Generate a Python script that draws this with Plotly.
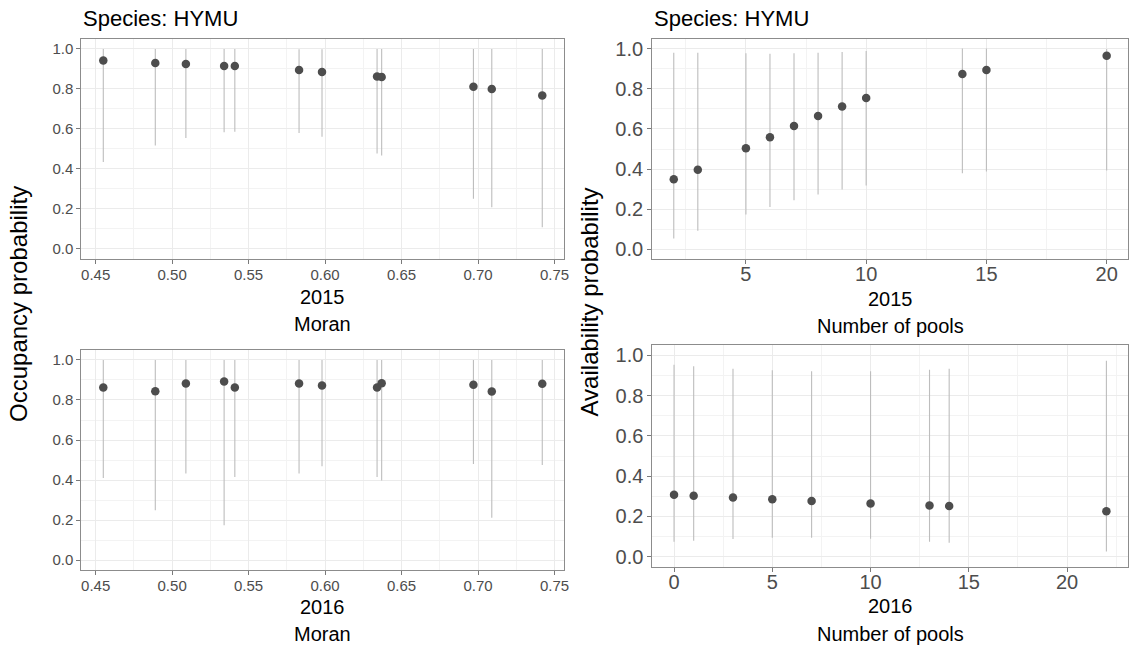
import plotly.graph_objects as go

# ---------------- data ----------------
moran = [0.455, 0.489, 0.509, 0.534, 0.541, 0.583, 0.598, 0.634, 0.637, 0.697, 0.709, 0.742]
occ_2015 = [0.942, 0.929, 0.925, 0.915, 0.914, 0.894, 0.885, 0.862, 0.859, 0.811, 0.799, 0.767]
occ_2015_lo = [0.435, 0.517, 0.555, 0.583, 0.586, 0.580, 0.561, 0.477, 0.467, 0.251, 0.208, 0.108]
occ_2015_hi = [1.0, 1.0, 1.0, 1.0, 1.0, 0.998, 0.998, 1.0, 1.0, 1.0, 1.0, 1.0]
occ_2016 = [0.862, 0.844, 0.882, 0.892, 0.862, 0.882, 0.872, 0.862, 0.884, 0.876, 0.842, 0.881]
occ_2016_lo = [0.410, 0.250, 0.433, 0.174, 0.416, 0.433, 0.469, 0.415, 0.398, 0.481, 0.212, 0.476]
occ_2016_hi = [1.0, 1.0, 1.0, 1.0, 1.0, 1.0, 1.0, 1.0, 1.0, 1.0, 1.0, 1.0]

pools_2015 = [2, 3, 5, 6, 7, 8, 9, 10, 14, 15, 20]
avail_2015 = [0.349, 0.397, 0.504, 0.559, 0.615, 0.664, 0.712, 0.754, 0.874, 0.894, 0.964]
avail_2015_lo = [0.055, 0.093, 0.174, 0.212, 0.245, 0.274, 0.299, 0.319, 0.380, 0.388, 0.393]
avail_2015_hi = [0.980, 0.980, 0.977, 0.975, 0.977, 0.980, 0.983, 0.988, 1.0, 1.0, 0.998]

pools_2016 = [0, 1, 3, 5, 7, 10, 13, 14, 22]
avail_2016 = [0.307, 0.302, 0.294, 0.285, 0.276, 0.264, 0.254, 0.251, 0.226]
avail_2016_lo = [0.074, 0.079, 0.087, 0.094, 0.094, 0.089, 0.074, 0.069, 0.025]
avail_2016_hi = [0.954, 0.947, 0.934, 0.926, 0.921, 0.921, 0.929, 0.934, 0.974]

species_title = "Species: HYMU"
years = ["2015", "2016"]
x_titles = ["Moran", "Number of pools"]
y_titles = ["Occupancy probability", "Availability probability"]

# ---------------- layout helpers ----------------
W, H = 1135, 648
FONT = "Liberation Sans, Arial, Helvetica, sans-serif"
POINT = "#4D4D4D"
BAR = "#BDBDBD"
BORDER = "#8C8C8C"


def px(x):
    return x / W


def py(y):
    return 1 - y / H


def expand(vals, lo=None, hi=None):
    a = min(vals) if lo is None else lo
    b = max(vals) if hi is None else hi
    d = (b - a) * 0.05
    return [a - d, b + d]


fig = go.Figure()

panels = [
    (moran, occ_2015, occ_2015_lo, occ_2015_hi, "x", "y"),
    (pools_2015, avail_2015, avail_2015_lo, avail_2015_hi, "x2", "y2"),
    (moran, occ_2016, occ_2016_lo, occ_2016_hi, "x3", "y3"),
    (pools_2016, avail_2016, avail_2016_lo, avail_2016_hi, "x4", "y4"),
]
for xs, ys, lo, hi, xa, ya in panels:
    fig.add_trace(go.Scatter(
        x=xs, y=ys, mode="markers", xaxis=xa, yaxis=ya,
        marker=dict(color=POINT, size=8.5, line=dict(width=0)),
        error_y=dict(type="data", symmetric=False,
                     array=[h - v for h, v in zip(hi, ys)],
                     arrayminus=[v - l for v, l in zip(ys, lo)],
                     color=BAR, thickness=1.1, width=0),
        showlegend=False, hoverinfo="skip",
    ))

# panel frames in pixels (left, top, right, bottom)
frames = {
    "1": (81.7, 38.0, 566.7, 258.7),
    "2": (655.0, 37.7, 1133.3, 259.3),
    "3": (81.7, 350.0, 566.7, 571.0),
    "4": (655.3, 345.5, 1133.0, 567.4),
}


def xaxis(frame, rng, dtick, tick0, fmt, fsize, anchor, standoff):
    l, t, r, b = frame
    return dict(domain=[px(l), px(r)], range=rng, anchor=anchor,
                dtick=dtick, tick0=tick0, tickformat=fmt,
                showgrid=True, gridcolor="#EBEBEB", gridwidth=1.2,
                minor=dict(dtick=dtick / 2, tick0=tick0 - dtick / 2, showgrid=True,
                           gridcolor="#F3F3F3", gridwidth=1),
                zeroline=False, showline=True, mirror=True, linecolor=BORDER, linewidth=1,
                ticks="outside", ticklen=4, tickwidth=1, tickcolor="#7A7A7A",
                ticklabelstandoff=standoff,
                tickfont=dict(family=FONT, size=fsize, color="#4D4D4D"))


def yaxis(frame, fsize, anchor):
    l, t, r, b = frame
    return dict(domain=[py(b), py(t)], range=[-0.05, 1.05], anchor=anchor,
                dtick=0.2, tick0=0, tickformat=".1f",
                showgrid=True, gridcolor="#EBEBEB", gridwidth=1.2,
                minor=dict(dtick=0.1, tick0=0.1, showgrid=True,
                           gridcolor="#F3F3F3", gridwidth=1),
                zeroline=False, showline=True, mirror=True, linecolor=BORDER, linewidth=1,
                ticks="outside", ticklen=4, tickwidth=1, tickcolor="#7A7A7A",
                tickfont=dict(family=FONT, size=fsize, color="#4D4D4D"))


fig.update_layout(
    width=W, height=H, margin=dict(l=0, r=0, t=0, b=0),
    paper_bgcolor="white", plot_bgcolor="white",
    font=dict(family=FONT, color="black"),
    xaxis=xaxis(frames["1"], expand(moran), 0.05, 0.45, ".2f", 15, "y", -2),
    yaxis=yaxis(frames["1"], 15, "x"),
    xaxis2=xaxis(frames["2"], expand(pools_2015), 5, 0, "d", 20, "y2", -7),
    yaxis2=yaxis(frames["2"], 20, "x2"),
    xaxis3=xaxis(frames["3"], expand(moran), 0.05, 0.45, ".2f", 15, "y3", -2),
    yaxis3=yaxis(frames["3"], 15, "x3"),
    xaxis4=xaxis(frames["4"], expand(pools_2016), 5, 0, "d", 20, "y4", -7),
    yaxis4=yaxis(frames["4"], 20, "x4"),
)

ann = []
# species titles
for l in (81.7, 655.0):
    ann.append(dict(text=species_title, x=px(l), y=py(18), xref="paper", yref="paper",
                    xanchor="left", yanchor="middle", showarrow=False,
                    font=dict(family=FONT, size=22, color="black")))
# axis titles under panels
centres = [(324.2, 297, 324, 0), (894.2, 299, 326, 1), (324.2, 608, 635, 0), (894.2, 607, 635, 1)]
for i, (cx, y1, y2, k) in enumerate(centres):
    yr = years[0] if i < 2 else years[1]
    ann.append(dict(text=yr, x=px(cx), y=py(y1), xref="paper", yref="paper",
                    xanchor="center", yanchor="middle", showarrow=False,
                    font=dict(family=FONT, size=20, color="black")))
    ann.append(dict(text=x_titles[k], x=px(cx), y=py(y2), xref="paper", yref="paper",
                    xanchor="center", yanchor="middle", showarrow=False,
                    font=dict(family=FONT, size=20, color="black")))
# y titles
ann.append(dict(text=y_titles[0], x=px(18), y=py(304), xref="paper", yref="paper",
                xanchor="center", yanchor="middle", textangle=-90, showarrow=False,
                font=dict(family=FONT, size=24, color="black")))
ann.append(dict(text=y_titles[1], x=px(592), y=py(302), xref="paper", yref="paper",
                xanchor="center", yanchor="middle", textangle=-90, showarrow=False,
                font=dict(family=FONT, size=24, color="black")))
fig.update_layout(annotations=ann)

fig.write_html("out.html")
